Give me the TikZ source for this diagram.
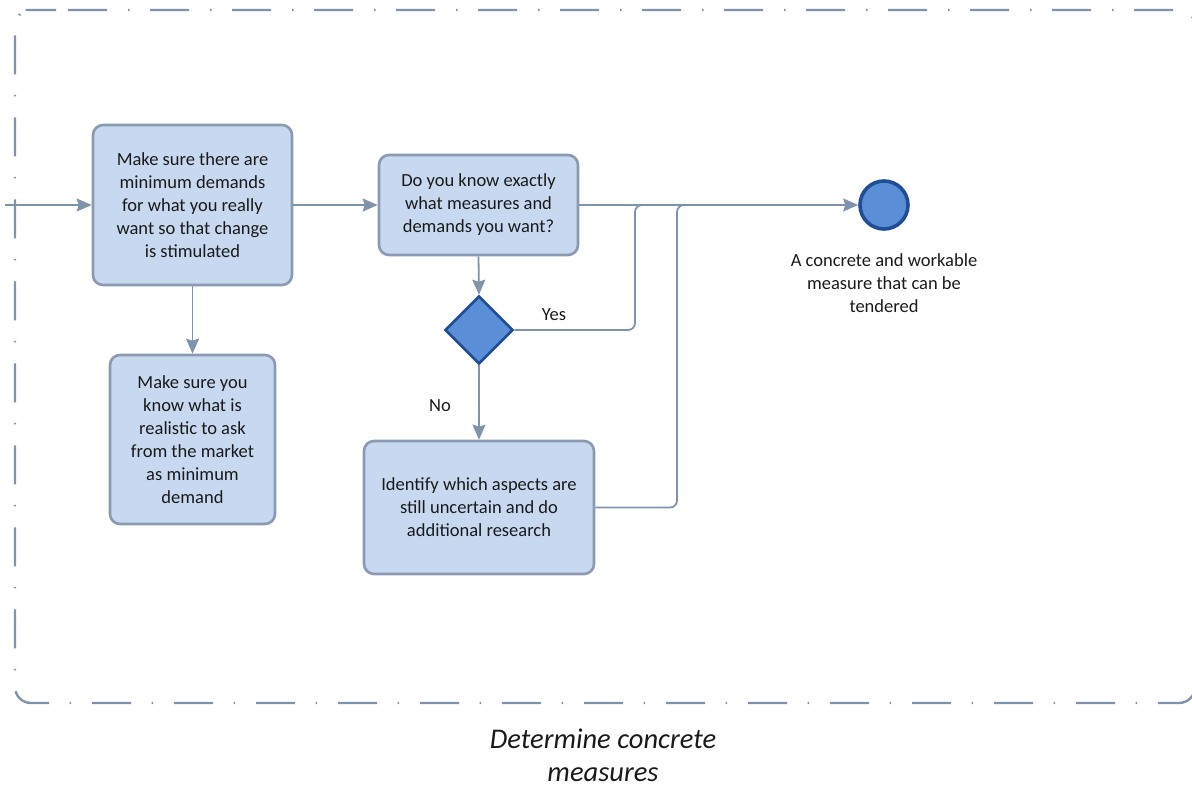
\documentclass[tikz,border=0pt]{standalone}
\usepackage{fontspec}
\setmainfont{Carlito}
\usetikzlibrary{arrows.meta,shapes.geometric}
\definecolor{lineblue}{HTML}{8093AC}
\definecolor{taskfill}{HTML}{C6D9F0}
\definecolor{taskedge}{HTML}{8A9AB2}
\definecolor{gatefill}{HTML}{5A8ED6}
\definecolor{gateedge}{HTML}{1F4E96}
\definecolor{txt}{HTML}{1A1A1A}
\tikzset{
  taskbox/.style={draw=taskedge, fill=taskfill, line width=2.6pt, rounded corners=10pt,
    align=center, inner sep=0pt, text=txt},
  gateway/.style={diamond, draw=gateedge, fill=gatefill, line width=2.6pt,
    minimum width=68pt, minimum height=68pt, inner sep=0pt},
  endevent/.style={circle, draw=gateedge, fill=gatefill, line width=3.6pt,
    minimum size=48pt, inner sep=0pt},
  flow/.style={draw=lineblue, line width=1.8pt,
    -{Stealth[length=15pt, width=13pt, inset=2pt]}},
  plainflow/.style={draw=lineblue, line width=1.8pt, rounded corners=7pt},
  lbl/.style={text=txt, align=center, inner sep=0pt},
  pool/.style={draw=lineblue, line width=2.4pt, rounded corners=16pt,
    dash pattern=on 39pt off 21pt on 1.5pt off 20.5pt, dash phase=70pt}
}
\begin{document}
\begin{tikzpicture}[x=1pt, y=-1pt, font=\fontsize{18.5}{23}\selectfont]
\useasboundingbox (0,0) rectangle (1192,787);

% sub-process frame (runs past the right edge)
\draw[pool] (40,10) -| (1195,703) -| (15,10) -- cycle;

% activities
\node[taskbox, minimum width=199pt, minimum height=160pt] (ensure) at (192.5,205)
  {Make sure there are\\minimum demands\\for what you really\\want so that change\\is stimulated};
\node[taskbox, minimum width=165pt, minimum height=169pt] (realistic) at (192.5,439.5)
  {Make sure you\\know what is\\realistic to ask\\from the market\\as minimum\\demand};
\node[taskbox, minimum width=199pt, minimum height=100pt] (know) at (478.5,205)
  {Do you know exactly\\what measures and\\demands you want?};
\node[gateway] (gate) at (479,330) {};
\node[taskbox, minimum width=230pt, minimum height=133pt] (research) at (479,507.5)
  {Identify which aspects are\\still uncertain and do\\additional research};
\node[endevent] (done) at (884,205) {};
\node[lbl, anchor=north] (donelbl) at (884,253)
  {A concrete and workable\\measure that can be\\tendered};

% title of the sub-process
\node[lbl, font=\fontsize{28.5}{33}\selectfont\itshape] (title) at (603,755)
  {Determine concrete\\measures};

% sequence flows
\coordinate (in) at (5,205);
\coordinate (yesturn) at (635,330);
\coordinate (yesjoin) at (635,205);
\coordinate (resturn) at (677,507.5);
\coordinate (resjoin) at (677,205);
\coordinate (joinend) at (700,205);

\draw[flow] (in) -- (ensure.west);
\draw[flow] (ensure.east) -- (know.west);
\draw[flow] (ensure.south) -- (realistic.north);
\draw[flow] (know.south) -- (gate.north);
\draw[flow] (gate.south) -- (research.north);
\draw[flow] (know.east) -- (done.west);
\draw[plainflow] (gate.east) -- (yesturn) -- (yesjoin) -- (joinend);
\draw[plainflow] (research.east) -- (resturn) -- (resjoin) -- (joinend);

\node[lbl] (yes) at (554,315) {Yes};
\node[lbl] (no) at (440,406) {No};
\end{tikzpicture}
\end{document}
